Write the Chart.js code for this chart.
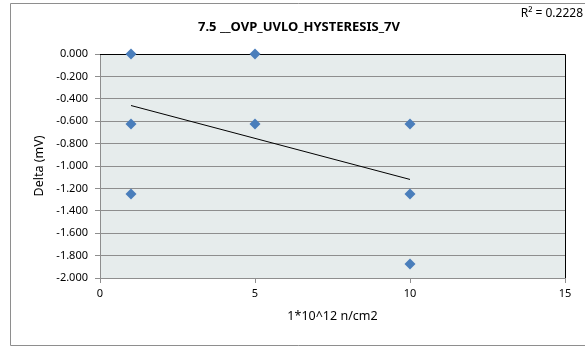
<!DOCTYPE html>
<html>
<head>
<meta charset="utf-8">
<script src="https://cdn.jsdelivr.net/npm/chart.js@4"></script>
<style>
  html, body { margin: 0; padding: 0; background: #fff; }
  #wrap { width: 585px; height: 348px; }
</style>
</head>
<body>
<div id="wrap"><canvas id="chartHisteresis"></canvas></div>
<script>
// datos
const dosis = [1, 1, 1, 5, 5, 10, 10, 10];
const delta = [0, -0.625, -1.25, 0, -0.625, -0.625, -1.25, -1.875];
const tendenciaX = [1, 10];
const tendenciaY = [-0.46, -1.12];
const tituloGrafico = '7.5 __OVP_UVLO_HYSTERESIS_7V';
const textoR2 = 'R² = 0.2228';

const fuente = "'Noto Sans', 'Open Sans', sans-serif";

// fondo del area de trazado, marco exterior y textos
const decoracion = {
    id: 'decoracion',
    beforeDraw(chart) {
        const { ctx, chartArea: a } = chart;
        ctx.save();
        ctx.fillStyle = '#e6ecec';
        ctx.fillRect(a.left, a.top, a.right - a.left, a.bottom - a.top);
        ctx.strokeStyle = '#8e8e8e';
        ctx.lineWidth = 1;
        ctx.beginPath();
        ctx.moveTo(590, 3.5); ctx.lineTo(10.5, 3.5); ctx.lineTo(10.5, 345.5); ctx.lineTo(590, 345.5);
        ctx.stroke();
        ctx.restore();
    },
    beforeDatasetsDraw(chart) {
        const { ctx, chartArea: a } = chart;
        ctx.save();
        ctx.strokeStyle = '#000';
        ctx.lineWidth = 1;
        ctx.beginPath();
        ctx.moveTo(a.left, a.top + 0.5);
        ctx.lineTo(a.right + 0.5, a.top + 0.5);
        ctx.lineTo(a.right + 0.5, a.bottom);
        ctx.stroke();
        ctx.restore();
    },
    afterDraw(chart) {
        const { ctx } = chart;
        ctx.save();
        ctx.fillStyle = '#000';
        ctx.textBaseline = 'middle';
        ctx.textAlign = 'center';
        ctx.font = "bold 13px " + fuente;
        ctx.fillText(tituloGrafico, 299, 27);
        ctx.textAlign = 'right';
        ctx.font = "12px " + fuente;
        ctx.fillText(textoR2, 583, 14);
        ctx.restore();
    }
};

new Chart(document.getElementById('chartHisteresis'), {
    type: 'scatter',
    data: {
        datasets: [
            {
                label: 'Delta',
                data: dosis.map((x, i) => ({ x: x, y: delta[i] })),
                pointStyle: 'rectRot',
                pointRadius: 5.5,
                pointHoverRadius: 5.5,
                backgroundColor: '#4a7ebb',
                borderColor: '#4a7ebb',
                borderWidth: 0,
                clip: false
            },
            {
                label: 'Lineal',
                type: 'line',
                data: tendenciaX.map((x, i) => ({ x: x, y: tendenciaY[i] })),
                borderColor: '#000',
                borderWidth: 1,
                pointRadius: 0,
                fill: false
            }
        ]
    },
    options: {
        responsive: true,
        maintainAspectRatio: false,
        animation: false,
        layout: { padding: { top: 54, right: 20, left: 0, bottom: 0 } },
        plugins: {
            legend: { display: false },
            tooltip: { enabled: false }
        },
        scales: {
            x: {
                type: 'linear',
                min: 0, max: 15,
                ticks: {
                    stepSize: 5, padding: 4, color: '#000',
                    font: { family: fuente, size: 11 }
                },
                grid: { drawOnChartArea: false, drawTicks: true, tickLength: 5, color: '#8e8e8e' },
                border: { color: '#8e8e8e' },
                title: {
                    display: true, text: '1*10^12 n/cm2', color: '#000',
                    font: { family: fuente, size: 12.5 }, padding: { top: 0, bottom: 24 }
                },
                afterFit(scale) { scale.height = 70; }
            },
            y: {
                min: -2, max: 0,
                ticks: {
                    stepSize: 0.2, padding: 7, color: '#000',
                    font: { family: fuente, size: 11 },
                    callback: v => (Math.abs(v) < 1e-9 ? 0 : v).toFixed(3)
                },
                grid: { color: '#8e8e8e', tickLength: 5 },
                border: { color: '#8e8e8e' },
                title: {
                    display: true, text: 'Delta (mV)', color: '#000',
                    font: { family: fuente, size: 12.5 }, padding: { top: 32, bottom: 0 }
                },
                afterFit(scale) { scale.width = 100; }
            }
        }
    },
    plugins: [decoracion]
});
</script>
</body>
</html>
